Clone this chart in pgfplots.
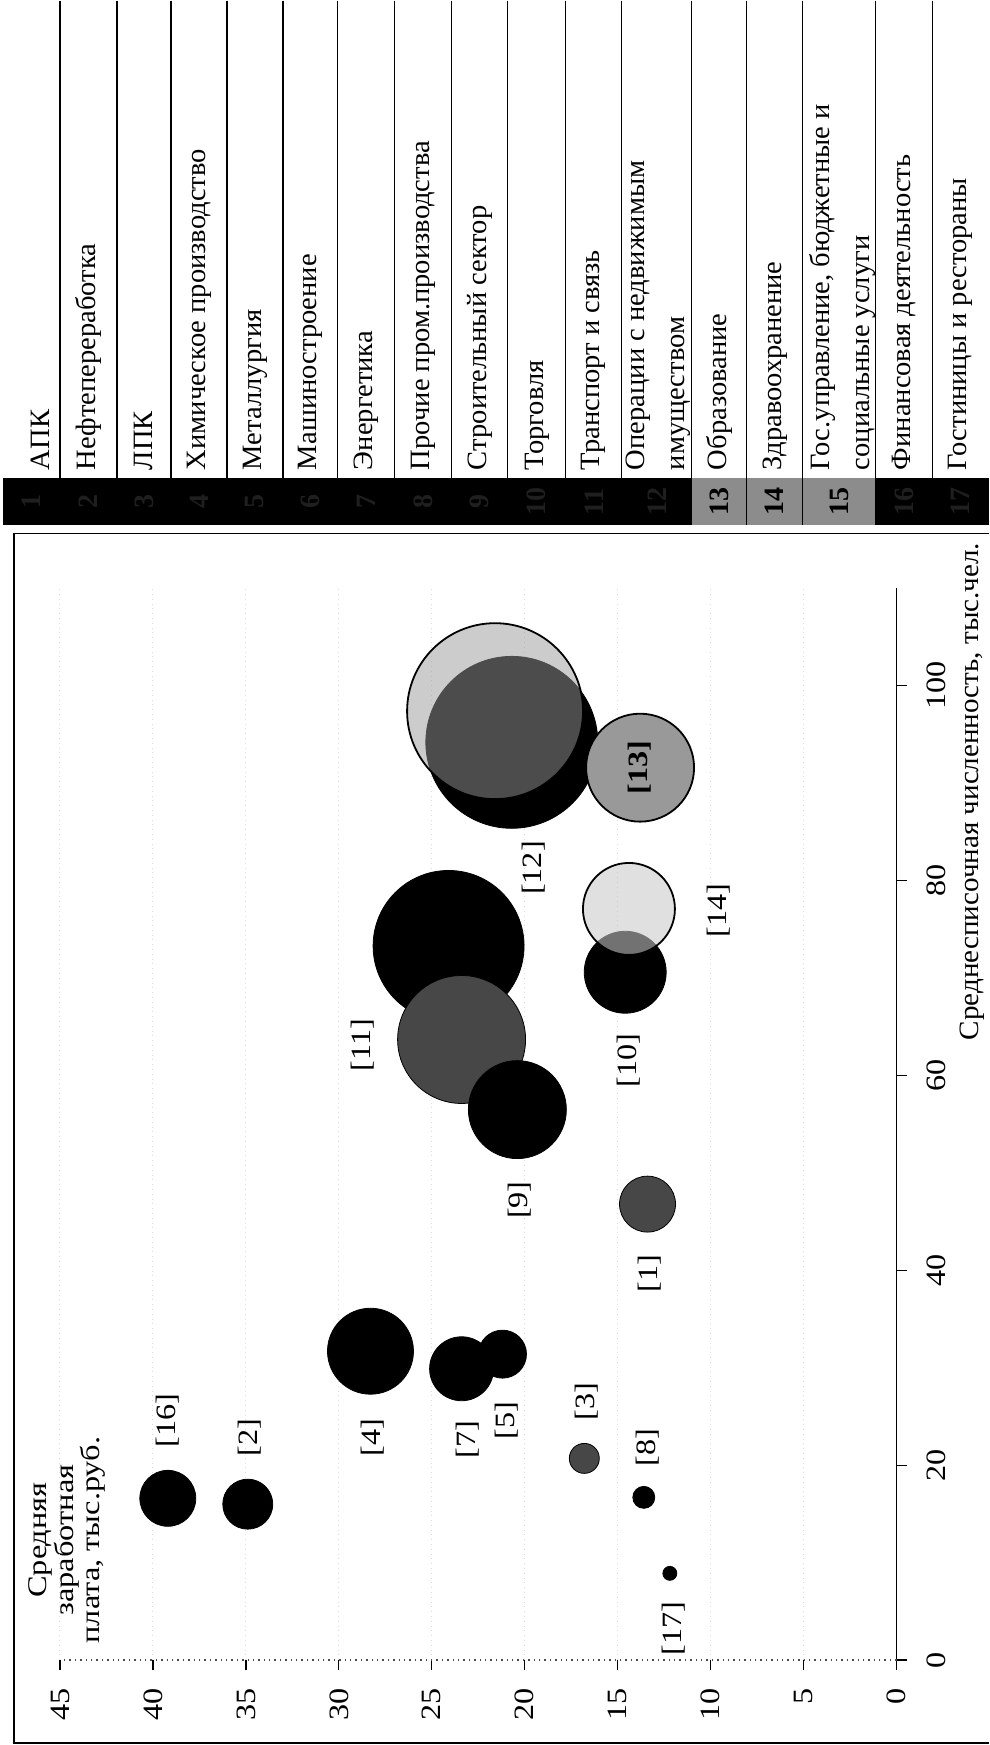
\documentclass[border=0pt]{standalone}
\usepackage{fontspec}
\setmainfont{Liberation Serif}
\usepackage{pgfplots}
\pgfplotsset{compat=1.18}
\newcommand{\bub}[4]{\addplot[only marks, mark=*, mark size=#3pt, mark options={#4}] coordinates {(#1,#2)};}
\newcommand{\lab}[3]{\node[rotate=90, inner sep=0pt, font=\fontsize{14}{16}\selectfont, xscale=1.15] at (axis cs:#1,#2) {#3};}
\begin{document}
\begin{tikzpicture}
\begin{scope}[x=0.5pt,y=-0.5pt]
\path (0,0) rectangle (989,1745);
% legend table (rotated)
\foreach \a/\b/\tx/\n/\c/\nc/\t in {
 3/60/40/1/black/black!88/{АПК},
 60/117/88.5/2/black/black!88/{Нефтепереработка},
 117/171/144/3/black/black!88/{ЛПК},
 171/227/199/4/black/black!88/{Химическое производство},
 227/283/255/5/black/black!88/{Металлургия},
 283/338/310.5/6/black/black!88/{Машиностроение},
 338/395/366.5/7/black/black!88/{Энергетика},
 395/452/423.5/8/black/black!88/{Прочие пром.производства},
 452/508/480/9/black/black!88/{Строительный сектор},
 508/566/537/10/black/black!88/{Торговля},
 566/622/594/11/black/black!88/{Транспорт и связь},
 622/692/658/12/black/black!88/{Операции с недвижимым\\имуществом},
 692/747/719.5/13/black!45/black/{Образование},
 747/803/775/14/black!45/black/{Здравоохранение},
 803/876/843/15/black!45/black/{Гос.управление, бюджетные и\\социальные услуги},
 876/933/904.5/16/black/black!88/{Финансовая деятельность},
 933/989/961/17/black/black!88/{Гостиницы и рестораны}} {
  \fill[\c] (\a,478) rectangle (\b,525);
  \node[rotate=90, inner sep=0pt, text=\nc, font=\bfseries\fontsize{14}{16}\selectfont] at ({(\a+\b)/2},501.5) {\n};
  \node[rotate=90, anchor=west, inner sep=0pt, align=left, font=\fontsize{14}{20}\selectfont, xscale=1.02] at (\tx,470) {\t};
}
\foreach \b in {60,117,171,227,283,338,395,452,508,566,622,692,747,803,876,933}
  \draw[line width=0.6pt] (\b,0) -- (\b,525);
% frame
\draw[line width=0.8pt] (989,533) -- (14,533) -- (14,1743) -- (989,1743);
% titles
\node[rotate=90, align=center, inner sep=0pt, font=\fontsize{13.5}{13.3}\selectfont, xscale=1.2] at (67,1540) {Средняя\\заработная\\плата, тыс.руб.};
\node[rotate=90, anchor=east, inner sep=0pt, font=\fontsize{14}{16}\selectfont, xscale=1.04] at (973,542) {Среднесписочная численность, тыс.чел.};
\end{scope}
\begin{axis}[
  at={(239.25pt,-562pt)}, anchor=center,
  scale only axis, width=418.5pt, height=536pt,
  xmin=0, xmax=45, ymin=0, ymax=110,
  x dir=reverse,
  clip=false,
  axis line style={draw=none},
  xtick={0,5,...,45}, ytick={0,20,...,100},
  xtick pos=left, ytick pos=right,
  tick align=outside,
  major tick length=5pt,
  every tick/.style={black, line width=0.6pt},
  xmajorgrids, grid style={black!14, dotted, line width=0.5pt},
  /pgf/number format/assume math mode=true,
  ticklabel style={font=\fontsize{14}{16}\selectfont, inner sep=0pt},
  xticklabel style={rotate=90, anchor=east, xscale=1.15},
  yticklabel style={rotate=90, anchor=north, xscale=1.15},
  xticklabel shift=9pt,
  yticklabel shift=10pt,
  after end axis/.code={\lab{13.8}{91.6}{\textbf{[13]}}},
]
\draw[line width=0.8pt] (axis cs:0,-0.5) -- (axis cs:0,110);
\draw[dotted, black!70, line width=0.7pt] (axis cs:0,0) -- (axis cs:45,0);
% bubbles: salary, headcount, radius (pt), style
\bub{24.1}{73.3}{37.75}{fill=black, draw=none}
\bub{23.4}{63.7}{32}{fill=black!72, draw=none}
\bub{20.4}{56.5}{24.5}{fill=black, draw=none}
\bub{20.7}{94.2}{43}{fill=black, draw=none}
\bub{21.6}{97.4}{44}{fill=black!40, fill opacity=0.5, draw=black, line width=0.9pt}
\bub{13.8}{91.6}{27}{fill=black!40, draw=black, line width=0.9pt}
\bub{14.6}{70.6}{20.5}{fill=black, draw=none}
\bub{14.4}{77.1}{23}{fill=black!21, fill opacity=0.57, draw=black, line width=0.9pt}
\bub{13.4}{46.8}{14}{fill=black!72, draw=none}
\bub{28.3}{31.7}{21.5}{fill=black, draw=none}
\bub{23.4}{29.9}{16}{fill=black, draw=none}
\bub{21.2}{31.4}{12}{fill=black, draw=none}
\bub{16.8}{20.7}{7.5}{fill=black!72, draw=none}
\bub{13.6}{16.7}{5.5}{fill=black, draw=none}
\bub{12.2}{8.9}{3.5}{fill=black, draw=none}
\bub{34.9}{16.0}{12.5}{fill=black, draw=none}
\bub{39.2}{16.6}{14}{fill=black, draw=none}
% labels
\lab{39.2}{24.6}{[16]}
\lab{34.8}{22.8}{[2]}
\lab{28.2}{22.8}{[4]}
\lab{23.1}{22.6}{[7]}
\lab{21.0}{24.6}{[5]}
\lab{16.7}{26.5}{[3]}
\lab{13.4}{21.8}{[8]}
\lab{12.0}{3.2}{[17]}
\lab{13.3}{39.7}{[1]}
\lab{20.3}{47.2}{[9]}
\lab{14.4}{61.5}{[10]}
\lab{28.7}{63.1}{[11]}
\lab{9.6}{76.9}{[14]}
\lab{19.5}{81.3}{[12]}
\end{axis}
\end{tikzpicture}
\end{document}
